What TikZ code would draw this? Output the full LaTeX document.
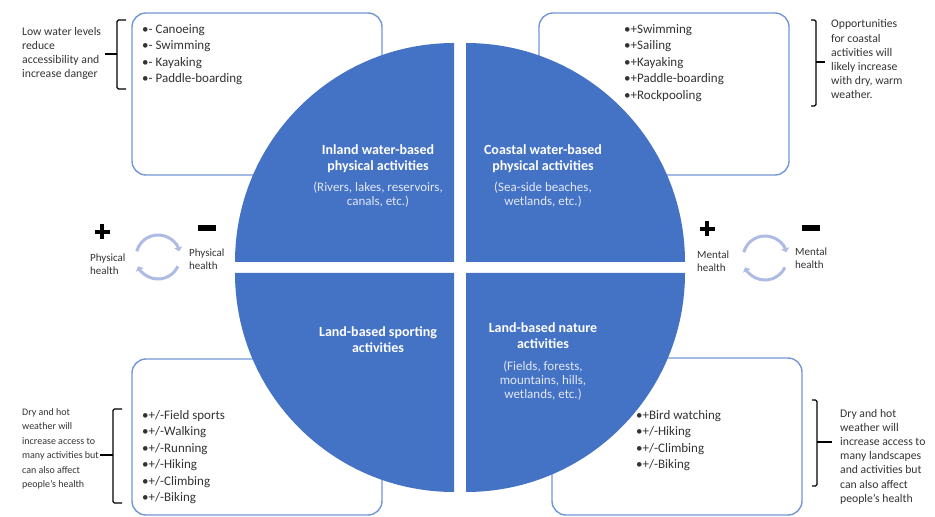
\documentclass[tikz,border=0pt]{standalone}
\usepackage{fontspec}
\setmainfont{Carlito}
\usetikzlibrary{arrows.meta}
\definecolor{cblue}{HTML}{4472C4}
\definecolor{bordblue}{HTML}{7396D8}
\definecolor{cyccol}{HTML}{AEBCE4}
\definecolor{txtgray}{HTML}{333333}
\definecolor{subw}{HTML}{E2E8F5}
\tikzset{
  boxn/.style={draw=bordblue, line width=1.4pt, rounded corners=14pt, fill=white, inner sep=0pt},
  quad/.style={fill=cblue},
  itemtxt/.style={anchor=north west, inner sep=0pt, align=left, text=txtgray, font=\fontsize{13}{16.5}\selectfont},
  notetxt/.style={anchor=north west, inner sep=0pt, align=left, text=txtgray, font=\fontsize{11.7}{14.2}\selectfont},
  notesmall/.style={anchor=north west, inner sep=0pt, align=left, text=txtgray, font=\fontsize{10}{14.5}\selectfont},
  ttl/.style={anchor=north, inner sep=0pt, align=center, text=white, font=\bfseries\fontsize{14}{16}\selectfont},
  subt/.style={anchor=north, inner sep=0pt, align=center, text=subw, font=\fontsize{13}{14}\selectfont},
  hlab/.style={anchor=north west, inner sep=0pt, align=left, text=txtgray, font=\fontsize{11}{13}\selectfont},
  brk/.style={draw=black, line width=1.3pt, rounded corners=1.5pt},
  cyc/.style={draw=cyccol, line width=3pt, -{Triangle[length=4pt,width=8pt]}},
}
\begin{document}
\begin{tikzpicture}[x=1pt,y=1pt]
\useasboundingbox (0,0) rectangle (935,517);
% boxes behind the circle
\node[boxn, minimum width=250pt, minimum height=162pt] (tlbox) at (257,423) {};
\node[boxn, minimum width=250pt, minimum height=162pt] (trbox) at (664,423) {};
\node[boxn, minimum width=250pt, minimum height=156pt] (blbox) at (257,80) {};
\node[boxn, minimum width=250pt, minimum height=157pt] (brbox) at (677,80.5) {};
% circle quadrants
\fill[quad] (454,255) -- ++(180:219) arc[start angle=180,end angle=90,radius=219] -- cycle;
\fill[quad] (466,255) -- ++(90:219) arc[start angle=90,end angle=0,radius=219] -- cycle;
\fill[quad] (454,244) -- ++(180:219) arc[start angle=180,end angle=270,radius=219] -- cycle;
\fill[quad] (466,244) -- ++(270:219) arc[start angle=270,end angle=360,radius=219] -- cycle;
% circle texts
\node[ttl] (inlandt) at (378,372.2) {Inland water-based\\physical activities};
\node[subt] (inlands) at (378,334.8) {(Rivers, lakes, reservoirs,\\canals, etc.)};
\node[ttl] (coastt) at (543,372.2) {Coastal water-based\\physical activities};
\node[subt] (coasts) at (543,334.8) {(Sea-side beaches,\\wetlands, etc.)};
\node[ttl] (sportt) at (378,190.2) {Land-based sporting\\activities};
\node[ttl] (naturet) at (543,194.2) {Land-based nature\\activities};
\node[subt] (natures) at (543,155.8) {(Fields, forests,\\mountains, hills,\\wetlands, etc.)};
% box lists
\node[itemtxt] (tlitems) at (142,492.8) {•- Canoeing\\•- Swimming\\•- Kayaking\\•- Paddle-boarding};
\node[itemtxt] (tritems) at (624,492.8) {•+Swimming\\•+Sailing\\•+Kayaking\\•+Paddle-boarding\\•+Rockpooling};
\node[itemtxt] (blitems) at (142,106.8) {•+/-Field sports\\•+/-Walking\\•+/-Running\\•+/-Hiking\\•+/-Climbing\\•+/-Biking};
\node[itemtxt] (britems) at (636,106.8) {•+Bird watching\\•+/-Hiking\\•+/-Climbing\\•+/-Biking};
% annotations
\node[notetxt] (tlnote) at (22,490.3) {Low water levels\\reduce\\accessibility and\\increase danger};
\node[notetxt] (trnote) at (831,497.3) {Opportunities\\for coastal\\activities will\\likely increase\\with dry, warm\\weather.};
\node[notesmall] (blnote) at (22,108.7) {Dry and hot\\weather will\\increase access to\\many activities but\\can also affect\\people’s health};
\node[notetxt] (brnote) at (840,108.3) {Dry and hot\\weather will\\increase access to\\many landscapes\\and activities but\\can also affect\\people’s health};
% brackets
\draw[brk] (126,497) -- (117,497) -- (117,428) -- (126,428);
\draw[brk] (105,463) -- (117,463);
\draw[brk] (811,497) -- (816,497) -- (816,411) -- (811,411);
\draw[brk] (816,455) -- (825,455);
\draw[brk] (122,108) -- (113,108) -- (113,14) -- (122,14);
\draw[brk] (100,62) -- (113,62);
\draw[brk] (812,117) -- (817,117) -- (817,31) -- (812,31);
\draw[brk] (817,75) -- (832,75);
% health: plus / minus signs
\fill[black] (94.5,282.75) rectangle (109.5,287.25);
\fill[black] (99.75,277.5) rectangle (104.25,292.5);
\fill[black] (198,285.75) rectangle (216,292.25);
\fill[black] (699.5,285.75) rectangle (714.5,290.25);
\fill[black] (704.75,280.5) rectangle (709.25,295.5);
\fill[black] (802,285.75) rectangle (820,292.25);
\node[hlab] (physp) at (90,263) {Physical\\health};
\node[hlab] (physm) at (189,268) {Physical\\health};
\node[hlab] (mentp) at (697,266) {Mental\\health};
\node[hlab] (mentm) at (795,269) {Mental\\health};
% cycle arrows
\coordinate (cycL) at (158,260);
\coordinate (cycR) at (765,259);
\draw[cyc] (cycL) ++(165:22) arc[start angle=165,end angle=15,radius=22];
\draw[cyc] (cycL) ++(-25:22) arc[start angle=-25,end angle=-155,radius=22];
\draw[cyc] (cycR) ++(165:22) arc[start angle=165,end angle=15,radius=22];
\draw[cyc] (cycR) ++(-25:22) arc[start angle=-25,end angle=-155,radius=22];
\end{tikzpicture}
\end{document}
